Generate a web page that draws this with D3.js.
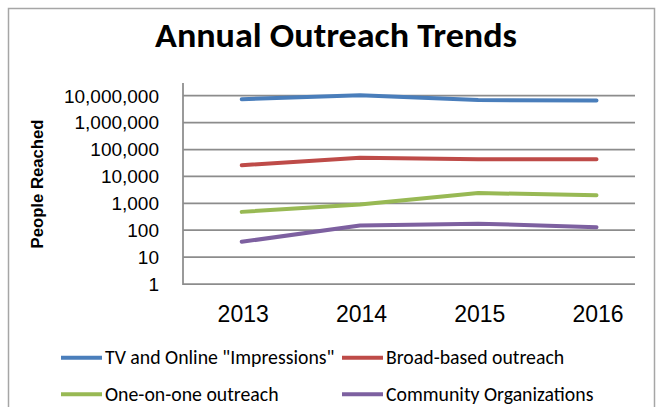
<!DOCTYPE html>
<html><head><meta charset="utf-8">
<script src="https://cdn.jsdelivr.net/npm/d3@7"></script>
<style>html,body{margin:0;padding:0;background:#fff;overflow:hidden}</style>
</head><body><svg id="c" width="662" height="407"></svg>
<script>
const years = ["2013","2014","2015","2016"];
const tvOnline = [7400000, 10500000, 6900000, 6600000];
const broadBased = [26000, 49000, 43000, 43000];
const oneOnOne = [480, 900, 2400, 2000];
const communityOrgs = [37, 150, 175, 130];
const yTicks = [1,10,100,1000,10000,100000,1000000,10000000];
const seriesNames = ['TV and Online "Impressions"', "Broad-based outreach", "One-on-one outreach", "Community Organizations"];
const seriesColors = ["#4A7EBB", "#BE4B48", "#98B954", "#7D60A0"];
const seriesValues = [tvOnline, broadBased, oneOnOne, communityOrgs];

const svg = d3.select("#c");
svg.append("rect").attr("x",8.5).attr("y",8.5).attr("width",646).attr("height",420)
  .attr("fill","#fff").attr("stroke","#a6a6a6").attr("stroke-width",1.5);

svg.append("text").attr("x",336).attr("y",47).attr("text-anchor","middle")
  .attr("font-family","Carlito, Lato, sans-serif").attr("font-weight","bold")
  .attr("font-size",34).attr("textLength",362).attr("lengthAdjust","spacingAndGlyphs")
  .attr("fill","#000").text("Annual Outreach Trends");

const plotL = 183, plotR = 635, plotT = 83;
const x = d3.scalePoint().domain(years).range([241.7, 596.5]);
const y = d3.scaleLog().domain([1, 1e7]).range([284, 95.7]);

// gridlines
svg.append("g").selectAll("line").data(yTicks).join("line")
  .attr("x1",plotL).attr("x2",plotR).attr("y1",d=>y(d)).attr("y2",d=>y(d))
  .attr("stroke","#8c8c8c").attr("stroke-width",1.75);
svg.append("line").attr("x1",plotL).attr("x2",plotL).attr("y1",plotT).attr("y2",y(1)+0.9)
  .attr("stroke","#8c8c8c").attr("stroke-width",1.75);

// y axis labels
const fmt = d3.format(",");
svg.append("g").selectAll("text").data(yTicks).join("text")
  .attr("x",159).attr("y",d=>y(d)).attr("dy","0.36em").attr("text-anchor","end")
  .attr("font-family","Arial, 'Liberation Sans', sans-serif").attr("font-size",19)
  .attr("fill","#000").text(d=>fmt(d));

// x labels
svg.append("g").selectAll("text").data(years).join("text")
  .attr("x",d=>x(d)+1.5).attr("y",322).attr("text-anchor","middle")
  .attr("font-family","Arial, 'Liberation Sans', sans-serif").attr("font-size",23)
  .attr("fill","#000").text(d=>d);

// y title
svg.append("text").attr("transform","translate(37,184) rotate(-90)")
  .attr("text-anchor","middle").attr("dy","0.36em")
  .attr("font-family","Arial, 'Liberation Sans', sans-serif").attr("font-weight","bold")
  .attr("font-size",16.7).attr("fill","#000").text("People Reached");

// lines
const line = d3.line().x((d,i)=>x(years[i])).y(d=>y(d));
svg.append("g").selectAll("path").data(seriesValues).join("path")
  .attr("d",line).attr("fill","none").attr("stroke",(d,i)=>seriesColors[i])
  .attr("stroke-width",4).attr("stroke-linecap","round").attr("stroke-linejoin","round");

// legend
const legPos = [[61,357.7],[342,357.7],[61,394.3],[342,394.3]];
const lg = svg.append("g").selectAll("g").data(seriesNames).join("g")
  .attr("transform",(d,i)=>`translate(${legPos[i][0]},${legPos[i][1]})`);
lg.append("line").attr("x1",0).attr("x2",41).attr("y1",0).attr("y2",0)
  .attr("stroke",(d,i)=>seriesColors[i]).attr("stroke-width",4);
lg.append("text").attr("x",44).attr("y",6.5)
  .attr("font-family","Carlito, Lato, sans-serif").attr("font-size",19.8).attr("fill","#000")
  .text(d=>d);
</script></body></html>
